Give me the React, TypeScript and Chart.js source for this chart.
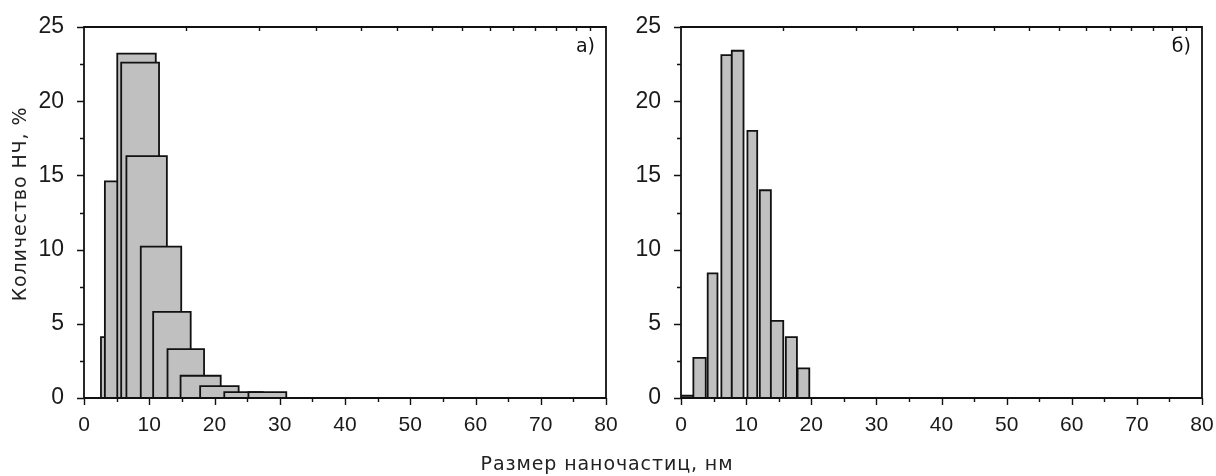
import React, { useEffect, useRef } from "react";
import { Chart, registerables } from "chart.js";

Chart.register(...registerables);

// Panel а): size classes (nm) with their share of nanoparticles (%).
// Classes overlap and are drawn in order, each new one over the previous.
const sizeFromA = [2.6, 3.2, 5.1, 5.7, 6.5, 8.7, 10.6, 12.8, 14.8, 17.8, 21.5, 25.2];
const sizeToA = [8.4, 9.0, 11.0, 11.5, 12.7, 14.9, 16.35, 18.4, 20.95, 23.7, 27.4, 31.0];
const shareA = [4.1, 14.6, 23.2, 22.6, 16.3, 10.2, 5.8, 3.3, 1.5, 0.8, 0.4, 0.4];

// Panel б): narrow size classes (nm) and share (%).
const sizeFromB = [0.0, 1.9, 4.1, 6.2, 7.8, 10.2, 12.1, 13.8, 16.1, 17.9];
const sizeToB = [1.9, 3.8, 5.6, 7.8, 9.6, 11.7, 13.8, 15.7, 17.8, 19.7];
const shareB = [0.15, 2.7, 8.4, 23.1, 23.4, 18.0, 14.0, 5.2, 4.1, 2.0];

// Axis ranges and tick steps
const X_MIN = 0;
const X_MAX = 80;
const X_MAJOR = 10;
const X_MINOR = 5;
const Y_MIN = 0;
const Y_MAX = 25;
const Y_MAJOR = 5;
const Y_MINOR = 2.5;

// Positions of the short marks along the upper frame edge (nm)
const topAxisTicks = [15.7, 26.8, 35.6, 42.4, 48.0, 53.4, 58.0, 62.2, 65.8, 69.1, 72.4, 75.4, 77.5];

const Y_TITLE = "Количество НЧ, %";
const X_TITLE = "Размер наночастиц, нм";

const BAR_FILL = "#c0c0c0";
const INK = "#111";
const TICK_FONT = "'Liberation Sans', Arial, sans-serif";
const TEXT_FONT = "'DejaVu Sans', Verdana, sans-serif";

type PanelProps = {
  from: number[];
  to: number[];
  share: number[];
  label: string;
  left: number;
  width: number;
  plotLeft: number;
  plotRight: number;
};

const PLOT_TOP = 27;
const PLOT_BOTTOM = 398;
const HEIGHT = 476;
const X_AXIS_H = 40;

const framePlugin = {
  id: "frame",
  afterDatasetsDraw(chart: any, _args: any, opts: any) {
    const { ctx, chartArea: a } = chart;
    const x = chart.scales.x;
    const y = chart.scales.y;
    ctx.save();
    ctx.strokeStyle = INK;
    ctx.lineWidth = 1.8;
    ctx.lineCap = "butt";
    ctx.beginPath();
    ctx.rect(a.left, a.top, a.right - a.left, a.bottom - a.top);
    ctx.stroke();

    ctx.lineWidth = 1.4;
    ctx.beginPath();
    for (let v = X_MIN; v <= X_MAX + 1e-6; v += X_MINOR) {
      const px = Math.round(x.getPixelForValue(v)) + 0.5;
      const len = Math.abs(v % X_MAJOR) < 1e-6 ? 7 : 4;
      ctx.moveTo(px, a.bottom);
      ctx.lineTo(px, a.bottom + len);
    }
    for (let v = Y_MIN; v <= Y_MAX + 1e-6; v += Y_MINOR) {
      const py = Math.round(y.getPixelForValue(v)) + 0.5;
      const len = Math.abs(v % Y_MAJOR) < 1e-6 ? 7 : 4;
      ctx.moveTo(a.left, py);
      ctx.lineTo(a.left - len, py);
    }
    for (const v of topAxisTicks) {
      const px = Math.round(x.getPixelForValue(v)) + 0.5;
      ctx.moveTo(px, a.top);
      ctx.lineTo(px, a.top + 4);
    }
    ctx.stroke();

    ctx.fillStyle = INK;
    ctx.font = `19px ${TEXT_FONT}`;
    ctx.textAlign = "right";
    ctx.textBaseline = "top";
    ctx.fillText(opts.label, a.right - 11, a.top + 11);
    ctx.restore();
  },
};

function Panel(props: PanelProps) {
  const ref = useRef<HTMLCanvasElement | null>(null);

  useEffect(() => {
    if (!ref.current) return;
    // later classes go on top (lower order is drawn last)
    const datasets = props.share.map((v, i) => ({
      data: [
        { x: props.from[i], y: 0 },
        { x: props.from[i], y: v },
        { x: props.to[i], y: v },
        { x: props.to[i], y: 0 },
      ],
      borderColor: INK,
      borderWidth: 1.8,
      backgroundColor: BAR_FILL,
      fill: "origin",
      tension: 0,
      pointRadius: 0,
      borderJoinStyle: "miter",
      order: -i,
    }));

    const chart = new Chart(ref.current, {
      type: "line",
      data: { datasets } as any,
      plugins: [framePlugin],
      options: {
        animation: false,
        responsive: false,
        maintainAspectRatio: false,
        events: [],
        layout: {
          padding: {
            top: PLOT_TOP,
            left: 0,
            right: props.width - props.plotRight,
            bottom: HEIGHT - PLOT_BOTTOM - X_AXIS_H,
          },
        },
        plugins: {
          legend: { display: false },
          tooltip: { enabled: false },
          frame: { label: props.label },
        } as any,
        scales: {
          x: {
            type: "linear",
            min: X_MIN,
            max: X_MAX,
            grid: { display: false },
            border: { display: false },
            ticks: {
              stepSize: X_MAJOR,
              padding: 7,
              color: "#1a1a1a",
              font: { family: TICK_FONT, size: 21 },
              maxRotation: 0,
            },
            afterFit: (s: any) => {
              s.height = X_AXIS_H;
            },
          },
          y: {
            type: "linear",
            min: Y_MIN,
            max: Y_MAX,
            grid: { display: false },
            border: { display: false },
            ticks: {
              stepSize: Y_MAJOR,
              padding: 12,
              color: "#1a1a1a",
              font: { family: TICK_FONT, size: 23 },
            },
            afterFit: (s: any) => {
              s.width = props.plotLeft;
            },
          },
        },
      } as any,
    });
    return () => chart.destroy();
  }, []);

  return (
    <canvas
      ref={ref}
      width={props.width}
      height={HEIGHT}
      style={{
        position: "absolute",
        left: props.left,
        top: 0,
        width: props.width,
        height: HEIGHT,
      }}
    />
  );
}

const titleStyle: React.CSSProperties = {
  position: "absolute",
  fontFamily: TEXT_FONT,
  fontSize: 19,
  letterSpacing: 0.9,
  color: "#222",
  lineHeight: "22px",
  whiteSpace: "nowrap",
  textAlign: "center",
};

export default function App() {
  return (
    <div
      style={{
        position: "absolute",
        left: 0,
        top: 0,
        width: 1216,
        height: HEIGHT,
        background: "#fff",
        overflow: "hidden",
      }}
    >
      <Panel
        from={sizeFromA}
        to={sizeToA}
        share={shareA}
        label="а)"
        left={0}
        width={630}
        plotLeft={84}
        plotRight={606}
      />
      <Panel
        from={sizeFromB}
        to={sizeToB}
        share={shareB}
        label="б)"
        left={590}
        width={640}
        plotLeft={91}
        plotRight={612}
      />
      <div
        style={{
          ...titleStyle,
          left: 19 - 150,
          top: 204 - 11,
          width: 300,
          transform: "rotate(-90deg)",
        }}
      >
        {Y_TITLE}
      </div>
      <div style={{ ...titleStyle, left: 0, width: 1214, top: 452 }}>{X_TITLE}</div>
    </div>
  );
}
